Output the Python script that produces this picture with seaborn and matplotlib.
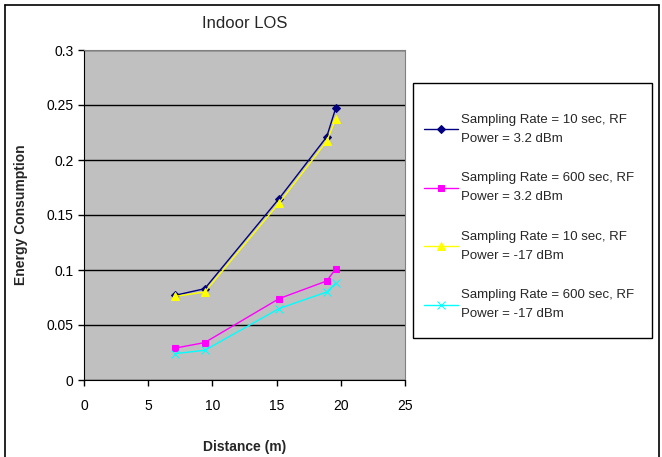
import matplotlib
matplotlib.use("Agg")
import matplotlib.pyplot as plt
import pandas as pd
import seaborn as sns

# values
distance = [7.1, 9.4, 15.2, 18.9, 19.6]
sr10_p32 = [0.077, 0.083, 0.165, 0.221, 0.247]
sr600_p32 = [0.029, 0.034, 0.074, 0.090, 0.101]
sr10_m17 = [0.076, 0.080, 0.161, 0.217, 0.237]
sr600_m17 = [0.024, 0.027, 0.065, 0.080, 0.088]

labels = [
    "Sampling Rate = 10 sec, RF\nPower = 3.2 dBm",
    "Sampling Rate = 600 sec, RF\nPower = 3.2 dBm",
    "Sampling Rate = 10 sec, RF\nPower = -17 dBm",
    "Sampling Rate = 600 sec, RF\nPower = -17 dBm",
]
colors = ["#000080", "#FF00FF", "#FFFF00", "#00FFFF"]
markers = ["D", "s", "^", "x"]
msizes = [4, 5, 6, 6]

rows = []
for lab, vals in zip(labels, [sr10_p32, sr600_p32, sr10_m17, sr600_m17]):
    for d, v in zip(distance, vals):
        rows.append({"Distance": d, "Energy": v, "Series": lab})
df = pd.DataFrame(rows)

sns.set_style("white")
plt.rcParams["font.family"] = ["Liberation Sans", "DejaVu Sans"]

W, H = 662, 457
fig = plt.figure(figsize=(W / 100, H / 100), dpi=100)
ax = fig.add_axes([84 / W, 1 - 380 / H, 321 / W, 330 / H])
ax.set_facecolor("#C0C0C0")

for lab, col, mk, ms in zip(labels, colors, markers, msizes):
    sub = df[df["Series"] == lab]
    sns.lineplot(data=sub, x="Distance", y="Energy", ax=ax, color=col,
                 marker=mk, markersize=ms, markeredgecolor=col,
                 linewidth=1.0, label=lab, sort=False, zorder=3)

ax.set_xlim(0, 25)
ax.set_ylim(0, 0.3)
ax.set_xticks([0, 5, 10, 15, 20, 25])
ax.set_yticks([0, 0.05, 0.1, 0.15, 0.2, 0.25, 0.3])
ax.set_yticklabels(["0", "0.05", "0.1", "0.15", "0.2", "0.25", "0.3"])
ax.yaxis.grid(True, color="black", linewidth=1.0)
ax.set_axisbelow(True)
ax.tick_params(axis="both", direction="out", length=4, width=1,
               labelsize=10, colors="black", left=True, bottom=True)
ax.tick_params(axis="x", pad=10)
for side in ["top", "right"]:
    ax.spines[side].set_color("#808080")
for side in ["left", "bottom"]:
    ax.spines[side].set_color("black")

ax.set_xlabel("Distance (m)", fontsize=10, fontweight="bold", labelpad=19)
ax.set_ylabel("Energy Consumption", fontsize=10, fontweight="bold", labelpad=13)
ax.set_title("Indoor LOS", fontsize=12, pad=16)

# legend box drawn separately (behind the axes) so the inner padding can match
fig.add_artist(plt.Rectangle((413 / W, 1 - 338 / H), 239 / W, 255 / H,
                             transform=fig.transFigure, facecolor="white",
                             edgecolor="black", linewidth=1.0, zorder=-1))
leg = ax.legend(loc="upper left", bbox_to_anchor=(424 / W, 1 - 114 / H),
                bbox_transform=fig.transFigure, fontsize=9.5, frameon=False,
                labelspacing=2.1, handlelength=2.6, handletextpad=0.2,
                borderpad=0, borderaxespad=0)
for t in leg.get_texts():
    t.set_linespacing(1.75)

# chart-area border
for xs, ys in [([5, 5], [H, 5]), ([5, 659], [5, 5]), ([659, 659], [5, H])]:
    fig.add_artist(plt.Line2D([x / W for x in xs], [1 - y / H for y in ys],
                              color="black", linewidth=1.2,
                              transform=fig.transFigure))

fig.savefig("out.png", dpi=100, facecolor="white")
